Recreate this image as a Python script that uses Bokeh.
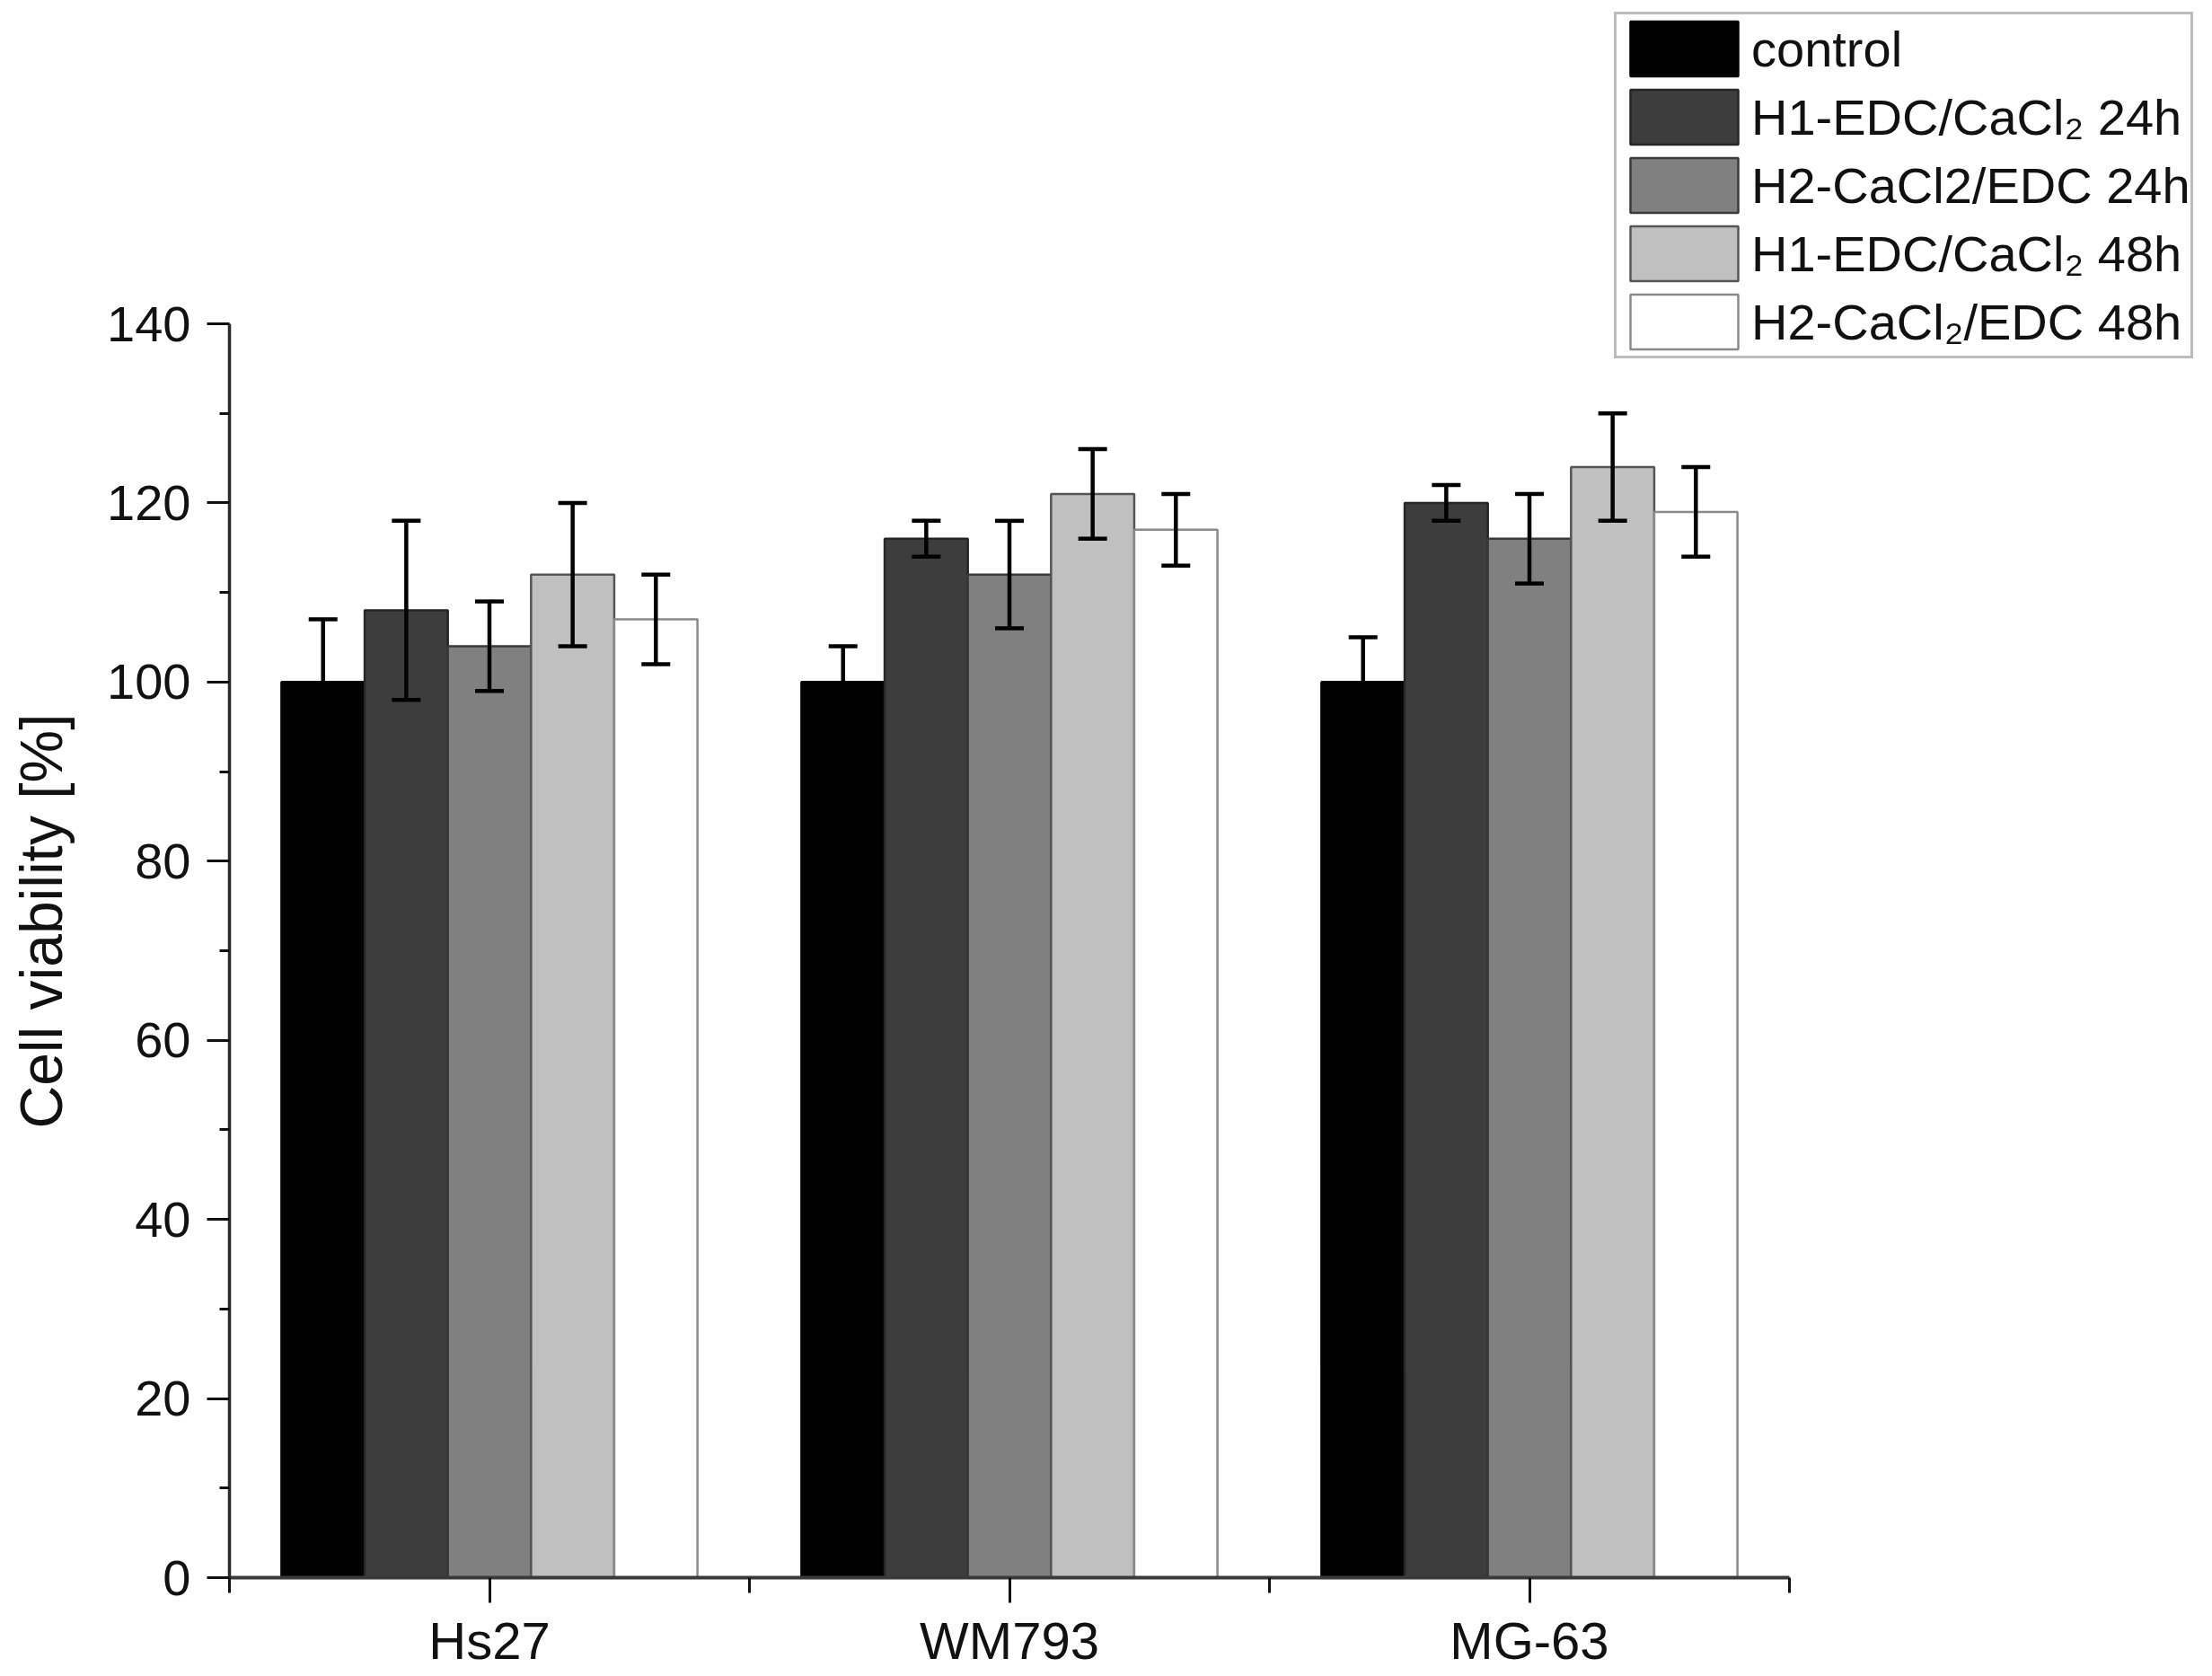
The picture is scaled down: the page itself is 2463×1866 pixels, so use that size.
from bokeh.plotting import figure
from bokeh.models import (ColumnDataSource, Range1d, FixedTicker, Whisker, TeeHead,
                          Legend, LegendItem, LinearAxis, Title)
from bokeh.embed import file_html
from bokeh.resources import INLINE

# ---- data ----
cell_lines = ["Hs27", "WM793", "MG-63"]
series_names = ["control", "H1-EDC/CaCl\u2082 24h", "H2-CaCl2/EDC 24h",
                "H1-EDC/CaCl\u2082 48h", "H2-CaCl\u2082/EDC 48h"]
control = [100, 100, 100]
control_err = [7, 4, 5]
h1_24 = [108, 116, 120]
h1_24_err = [10, 2, 2]
h2_24 = [104, 112, 116]
h2_24_err = [5, 6, 5]
h1_48 = [112, 121, 124]
h1_48_err = [8, 5, 6]
h2_48 = [107, 117, 119]
h2_48_err = [5, 4, 5]
y_ticks = [0, 20, 40, 60, 80, 100, 120, 140]
y_minor = [10, 30, 50, 70, 90, 110, 130]
y_title = "Cell viability [%]"

values = [control, h1_24, h2_24, h1_48, h2_48]
errors = [control_err, h1_24_err, h2_24_err, h1_48_err, h2_48_err]
fills = ["#000000", "#3d3d3d", "#808080", "#c0c0c0", "#ffffff"]
lines = ["#000000", "#262626", "#3a3a3a", "#555555", "#8a8a8a"]

FONT = "Liberation Sans"

# layout (pixels)
W, H = 2455, 1862
LEFT, RIGHT, TOP, BOTTOM = 255, 0, 0, 106
frame_w = W - LEFT - RIGHT
frame_h = H - TOP - BOTTOM
x_lo, x_hi = 0.5, 3.5          # data extent of the x axis
y_lo, y_hi = 0, 140            # data extent of the y axis
px_per_x = 1737 / (x_hi - x_lo)
px_per_y = 1396 / (y_hi - y_lo)
x_end = x_lo + frame_w / px_per_x
y_end = y_lo + frame_h / px_per_y

p = figure(width=W, height=H, output_backend="svg", toolbar_location=None,
           x_range=Range1d(x_lo, x_end), y_range=Range1d(y_lo, y_end),
           min_border_left=LEFT, min_border_right=RIGHT, min_border_top=TOP,
           min_border_bottom=BOTTOM)
p.xgrid.visible = False
p.ygrid.visible = False
p.outline_line_color = None
p.background_fill_color = "white"
p.border_fill_color = "white"

base_x = [i + 1 for i in range(len(cell_lines))]
bar_w = 0.16
n = len(values)
items = []
for k in range(n):
    off = (k - (n - 1) / 2) * bar_w
    xs = [b + off for b in base_x]
    src = ColumnDataSource(dict(x=xs, top=values[k],
                                upper=[v + e for v, e in zip(values[k], errors[k])],
                                lower=[v - e for v, e in zip(values[k], errors[k])]))
    r = p.vbar(x="x", top="top", bottom=0, width=bar_w, source=src,
               fill_color=fills[k], line_color=lines[k], line_width=2.5)
    items.append(LegendItem(label=series_names[k], renderers=[r]))
    w = Whisker(source=src, base="x", upper="upper", lower="lower",
                line_color="black", line_width=4.5, level="overlay",
                upper_head=TeeHead(size=32, line_color="black", line_width=4.5),
                lower_head=TeeHead(size=32, line_color="black", line_width=4.5))
    p.add_layout(w)

# axes
xa = p.xaxis[0]
xa.bounds = (x_lo, x_hi)
xa.ticker = FixedTicker(ticks=base_x, minor_ticks=[0.5, 1.5, 2.5, 3.5])
xa.major_label_overrides = {b: c for b, c in zip(base_x, cell_lines)}
xa.major_label_text_font = FONT
xa.major_label_text_font_size = "58px"
xa.major_label_text_line_height = 1.0
xa.major_label_text_color = "#111111"
xa.major_label_standoff = 9
xa.major_tick_out = 28
xa.major_tick_in = 0
xa.minor_tick_out = 17
xa.minor_tick_in = 0
xa.axis_line_width = 4
xa.axis_line_color = "#3a3a3a"
xa.major_tick_line_width = 3
xa.minor_tick_line_width = 3
xa.major_tick_line_color = "#111111"
xa.minor_tick_line_color = "#111111"

ya = p.yaxis[0]
ya.bounds = (y_lo, y_hi)
ya.ticker = FixedTicker(ticks=y_ticks, minor_ticks=y_minor)
ya.major_label_text_font = FONT
ya.major_label_text_font_size = "56px"
ya.major_label_text_color = "#111111"
ya.major_label_standoff = 18
ya.major_tick_out = 25
ya.major_tick_in = 0
ya.minor_tick_out = 11
ya.minor_tick_in = 0
ya.axis_line_width = 3.5
ya.axis_line_color = "#2a2a2a"
ya.major_tick_line_width = 3
ya.minor_tick_line_width = 3
ya.major_tick_line_color = "#111111"
ya.minor_tick_line_color = "#111111"

# invisible spacer axis (no line, no tick marks, empty label), so that the
# y title sits further out to the left
spacer = LinearAxis(ticker=FixedTicker(ticks=[y_lo], minor_ticks=[]),
                    major_label_overrides={y_lo: ""},
                    major_tick_out=34, major_tick_in=0, major_label_standoff=0,
                    minor_tick_out=0, minor_tick_in=0, axis_line_color=None,
                    major_tick_line_color=None, minor_tick_line_color=None,
                    major_label_text_font_size="1px")
p.add_layout(spacer, "left")

frame_bottom = H - BOTTOM
title_start = 1256          # screen y where the rotated title begins
p.add_layout(Title(text=y_title, align="left", vertical_align="bottom",
                   offset=frame_bottom - title_start, standoff=0,
                   text_font=FONT, text_font_size="66px", text_font_style="normal",
                   text_color="#111111"), "left")

legend = Legend(items=items, location=(1542, 1357),
                glyph_width=150, glyph_height=76, label_standoff=0,
                spacing=0, padding=0, margin=0,
                label_text_font=FONT, label_text_font_size="56px",
                label_text_color="#111111", label_height=64,
                border_line_color="#7a7a7a", border_line_width=3,
                background_fill_color="white", background_fill_alpha=1.0)
p.add_layout(legend, "center")

open("out.html", "w").write(file_html(p, INLINE))
